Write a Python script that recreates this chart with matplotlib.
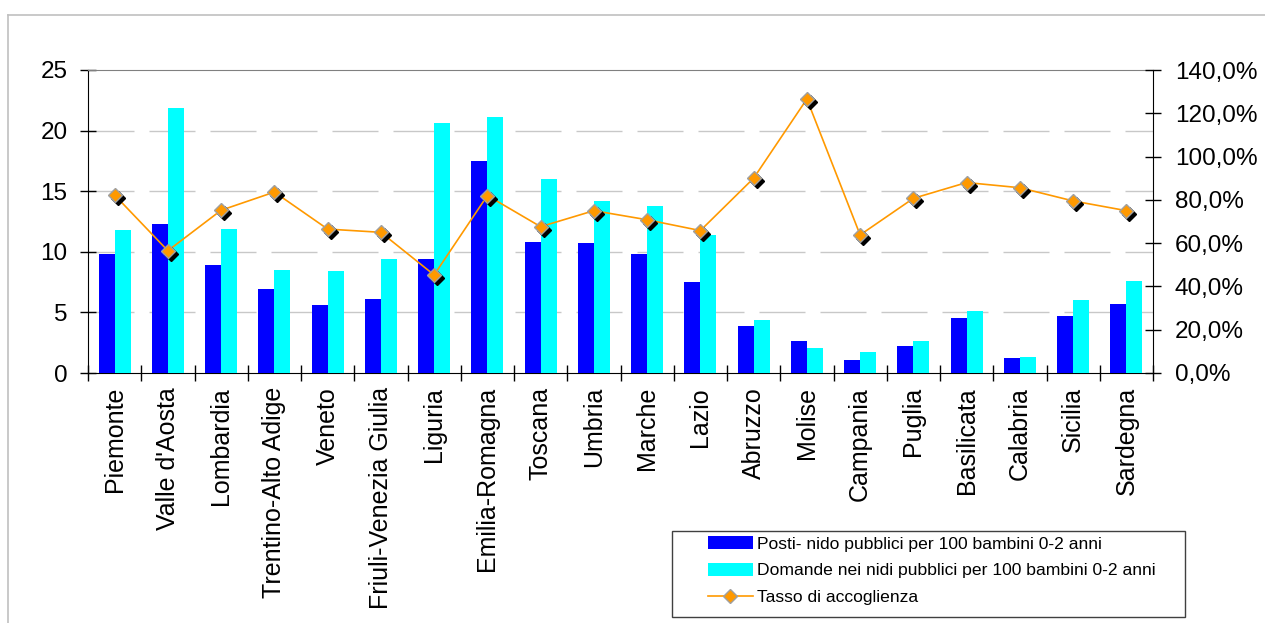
import matplotlib
matplotlib.use("Agg")
import matplotlib.pyplot as plt
import matplotlib.transforms as mtransforms
from matplotlib.lines import Line2D
from matplotlib.patches import Patch, Rectangle
import numpy as np

plt.rcParams['font.family'] = ['Liberation Sans', 'DejaVu Sans']
plt.rcParams['lines.scale_dashes'] = False

regions = ["Piemonte", "Valle d'Aosta", "Lombardia", "Trentino-Alto Adige", "Veneto",
           "Friuli-Venezia Giulia", "Liguria", "Emilia-Romagna", "Toscana", "Umbria",
           "Marche", "Lazio", "Abruzzo", "Molise", "Campania", "Puglia", "Basilicata",
           "Calabria", "Sicilia", "Sardegna"]
posti = [9.8, 12.3, 8.9, 6.9, 5.6, 6.1, 9.4, 17.5, 10.8, 10.7,
         9.8, 7.5, 3.9, 2.6, 1.1, 2.2, 4.5, 1.2, 4.7, 5.7]
domande = [11.8, 21.9, 11.9, 8.5, 8.4, 9.4, 20.6, 21.1, 16.0, 14.2,
           13.8, 11.4, 4.4, 2.1, 1.7, 2.6, 5.1, 1.3, 6.0, 7.6]
tasso = [82.2, 56.5, 75.2, 83.6, 66.5, 65.0, 45.3, 82.0, 67.6, 75.0,
         70.8, 65.8, 90.0, 126.6, 63.8, 80.7, 88.0, 85.6, 79.5, 75.0]
left_ticks = [0, 5, 10, 15, 20, 25]
right_ticks = [0, 20, 40, 60, 80, 100, 120, 140]

labels_legend = ["Posti- nido pubblici per 100 bambini 0-2 anni",
                 "Domande nei nidi pubblici per 100 bambini 0-2 anni",
                 "Tasso di accoglienza"]

W, H = 1265, 623
fig = plt.figure(figsize=(W / 100, H / 100), dpi=100)
px = 0.72  # points per pixel

ax = fig.add_axes([88 / W, (H - 373) / H, (1153 - 88) / W, (373 - 70) / H])
ax2 = ax.twinx()

x = np.arange(len(regions))
bw = 0.30
ax.bar(x - bw / 2, posti, width=bw, color="#0000FF", zorder=3)
ax.bar(x + bw / 2, domande, width=bw, color="#00FFFF", zorder=3)

ax.set_xlim(-0.5, len(regions) - 0.5)
ax.set_ylim(0, 25)
ax.set_yticks(left_ticks)
ax.set_yticklabels([str(t) for t in left_ticks])
for t in left_ticks[1:-1]:
    ax.axhline(t, color="#C8C8C8", lw=1.0, linestyle=(0, (46 * px, 15 * px)), zorder=1)

ax.set_xticks(x)
ax.set_xticklabels(regions, rotation=90, va="top", ha="center")
ax.set_xticks(np.arange(-0.5, len(regions), 1.0), minor=True)
ax.tick_params(axis="x", which="major", length=0, pad=10, labelsize=18)
ax.tick_params(axis="x", which="minor", direction="inout", length=16 * px, width=1, color="black")
ax.tick_params(axis="y", direction="inout", length=16 * px, width=1, pad=9, labelsize=17.5)

for s in ["left", "bottom"]:
    ax.spines[s].set_color("black")
ax.spines["top"].set_color("#808080")
ax.spines["right"].set_visible(False)
ax2.spines["top"].set_visible(False)
ax2.spines["left"].set_visible(False)
ax2.spines["bottom"].set_visible(False)
ax2.spines["right"].set_color("black")

ax2.set_ylim(0, 140)
ax2.set_yticks(right_ticks)
ax2.set_yticklabels([("%.1f%%" % t).replace(".", ",") for t in right_ticks])
ax2.tick_params(axis="y", direction="inout", length=16 * px, width=1, pad=10, labelsize=17.5)

orange = "#FF9900"
ax2.plot(x, tasso, color=orange, lw=1.2, zorder=4)
shadow_tr = mtransforms.offset_copy(ax2.transData, fig=fig, x=3, y=-3, units="dots")
ax2.plot(x, tasso, linestyle="none", marker="D", ms=7, color="black", mec="black",
         transform=shadow_tr, zorder=5)
ax2.plot(x, tasso, linestyle="none", marker="D", ms=7, color=orange, mec="#A0A0A0",
         mew=1.0, zorder=6)

# outer border (partially visible)
fig.add_artist(Line2D([8 / W, 1.0], [1 - 15 / H, 1 - 15 / H], transform=fig.transFigure,
                      color="#C0C0C0", lw=1.2))
fig.add_artist(Line2D([8 / W, 8 / W], [1 - 15 / H, 0.0], transform=fig.transFigure,
                      color="#C0C0C0", lw=1.2))

# legend
fig.add_artist(Rectangle((672 / W, (H - 617) / H), (1185 - 672) / W, (617 - 531) / H,
                         transform=fig.transFigure, facecolor="white",
                         edgecolor="#404040", lw=1.0))
handles = [Patch(facecolor="#0000FF", edgecolor="none"),
           Patch(facecolor="#00FFFF", edgecolor="none"),
           Line2D([], [], color=orange, lw=1.2, marker="D", ms=7, mfc=orange, mec="#A0A0A0")]
fig.legend(handles, labels_legend, loc="upper left",
           bbox_to_anchor=(708 / W, 1 - 536 / H), frameon=False,
           fontsize=12.6, handlelength=2.55, handleheight=0.75, handletextpad=0.25,
           labelspacing=0.65, borderpad=0, borderaxespad=0)

fig.savefig("out.png", dpi=100)
